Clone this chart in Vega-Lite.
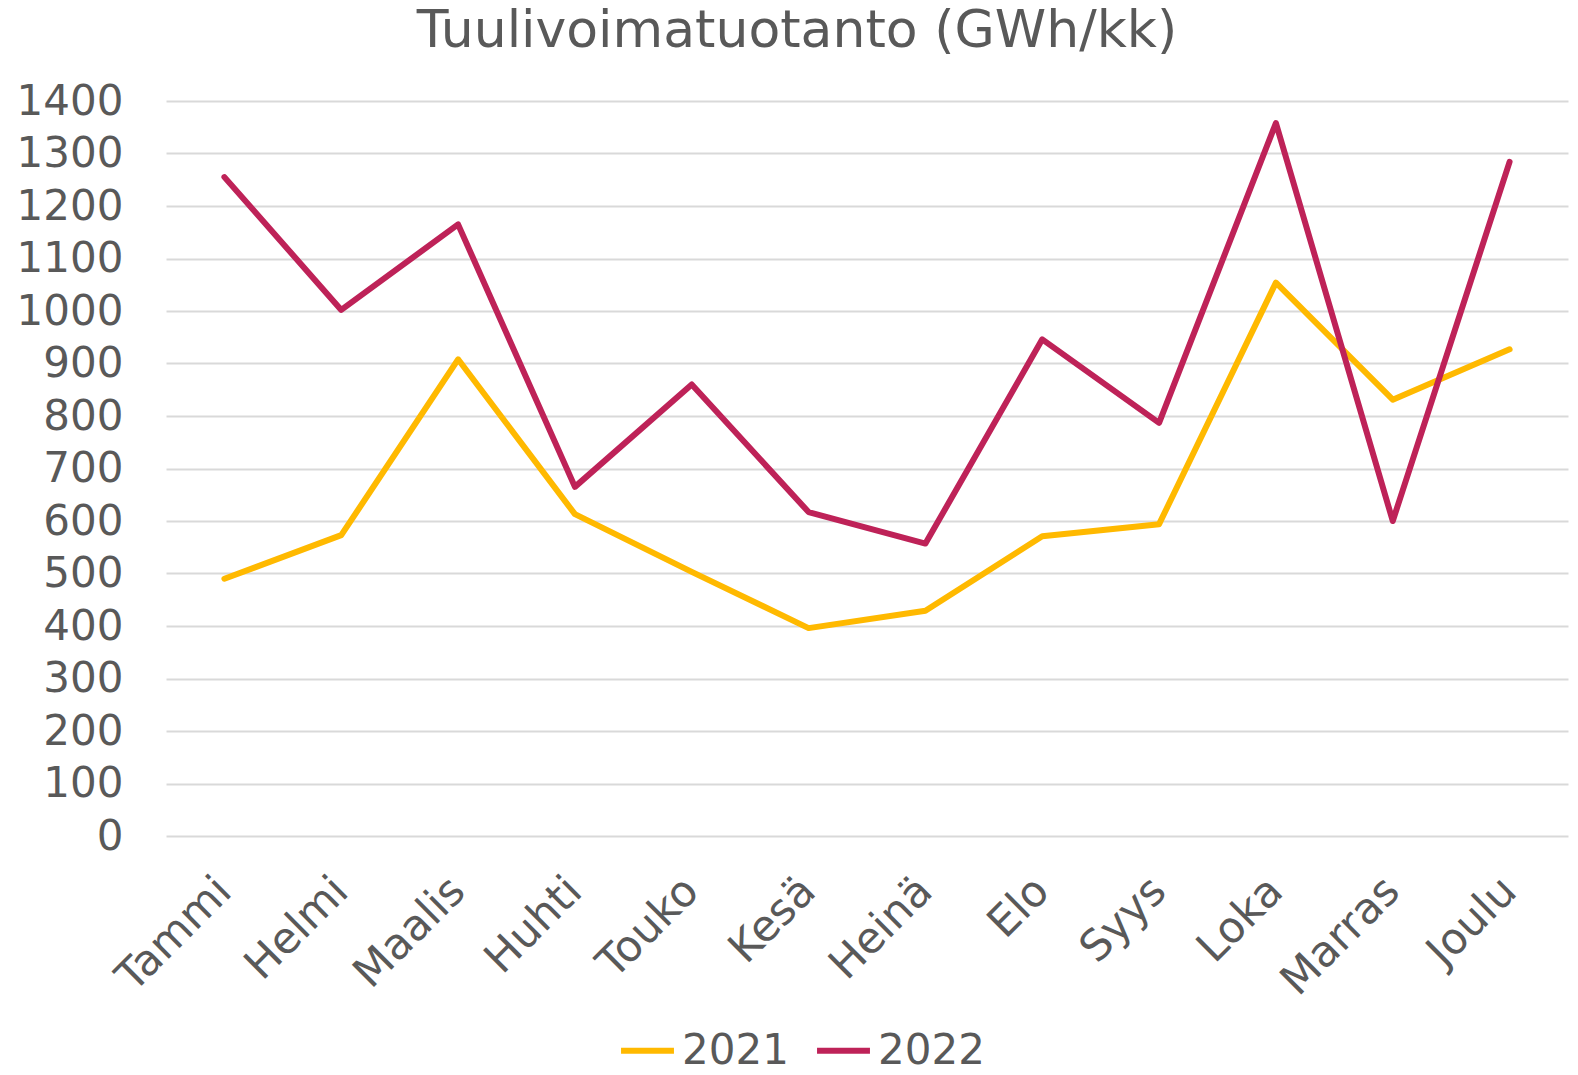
{
  "$schema": "https://vega.github.io/schema/vega-lite/v6.json",
  "autosize": "none",
  "width": 1402,
  "height": 735,
  "padding": {"left": 166, "top": 101, "right": 10, "bottom": 239},
  "background": "white",
  "config": {
    "font": "DejaVu Sans",
    "view": {"stroke": null}
  },
  "title": {
    "text": "Tuulivoimatuotanto (GWh/kk)",
    "fontSize": 52,
    "font": "DejaVu Sans",
    "fontWeight": "normal",
    "color": "#595959",
    "anchor": "middle",
    "frame": "group",
    "dx": -70,
    "offset": 22
  },
  "data": {
    "values": [
      {"kk": "Tammi", "vuosi": "2021", "GWh": 490},
      {"kk": "Helmi", "vuosi": "2021", "GWh": 573},
      {"kk": "Maalis", "vuosi": "2021", "GWh": 908},
      {"kk": "Huhti", "vuosi": "2021", "GWh": 613},
      {"kk": "Touko", "vuosi": "2021", "GWh": 503},
      {"kk": "Kesä", "vuosi": "2021", "GWh": 396},
      {"kk": "Heinä", "vuosi": "2021", "GWh": 429},
      {"kk": "Elo", "vuosi": "2021", "GWh": 571},
      {"kk": "Syys", "vuosi": "2021", "GWh": 594},
      {"kk": "Loka", "vuosi": "2021", "GWh": 1054},
      {"kk": "Marras", "vuosi": "2021", "GWh": 831},
      {"kk": "Joulu", "vuosi": "2021", "GWh": 927},
      {"kk": "Tammi", "vuosi": "2022", "GWh": 1255},
      {"kk": "Helmi", "vuosi": "2022", "GWh": 1002},
      {"kk": "Maalis", "vuosi": "2022", "GWh": 1165},
      {"kk": "Huhti", "vuosi": "2022", "GWh": 665},
      {"kk": "Touko", "vuosi": "2022", "GWh": 860},
      {"kk": "Kesä", "vuosi": "2022", "GWh": 617},
      {"kk": "Heinä", "vuosi": "2022", "GWh": 557},
      {"kk": "Elo", "vuosi": "2022", "GWh": 946},
      {"kk": "Syys", "vuosi": "2022", "GWh": 787},
      {"kk": "Loka", "vuosi": "2022", "GWh": 1358},
      {"kk": "Marras", "vuosi": "2022", "GWh": 600},
      {"kk": "Joulu", "vuosi": "2022", "GWh": 1284}
    ]
  },
  "mark": {"type": "line", "strokeWidth": 6, "strokeCap": "round", "strokeJoin": "round"},
  "encoding": {
    "x": {
      "field": "kk",
      "type": "nominal",
      "sort": ["Tammi", "Helmi", "Maalis", "Huhti", "Touko", "Kesä", "Heinä", "Elo", "Syys", "Loka", "Marras", "Joulu"],
      "scale": {"type": "band", "paddingInner": 0, "paddingOuter": 0},
      "axis": {
        "title": null,
        "domain": false,
        "ticks": false,
        "grid": false,
        "labelAngle": -45,
        "labelAlign": "right",
        "labelBaseline": "middle",
        "labelFontSize": 43,
        "labelColor": "#595959",
        "labelPadding": 48,
        "labelOverlap": false
      }
    },
    "y": {
      "field": "GWh",
      "type": "quantitative",
      "scale": {"domain": [0, 1400], "nice": false},
      "axis": {
        "title": null,
        "format": "d",
        "values": [0, 100, 200, 300, 400, 500, 600, 700, 800, 900, 1000, 1100, 1200, 1300, 1400],
        "domain": false,
        "ticks": false,
        "gridColor": "#d9d9d9",
        "gridWidth": 2,
        "labelFontSize": 42,
        "labelColor": "#595959",
        "labelPadding": 43,
        "labelOverlap": false
      }
    },
    "color": {
      "field": "vuosi",
      "type": "nominal",
      "scale": {"domain": ["2021", "2022"], "range": ["#FFB900", "#BE2258"]},
      "legend": {
        "title": null,
        "orient": "none",
        "direction": "horizontal",
        "legendX": 452,
        "legendY": 920,
        "symbolType": "stroke",
        "symbolSize": 2800,
        "symbolStrokeWidth": 6,
        "labelFontSize": 42,
        "labelColor": "#595959",
        "labelOffset": 5,
        "columnPadding": 16
      }
    }
  }
}
